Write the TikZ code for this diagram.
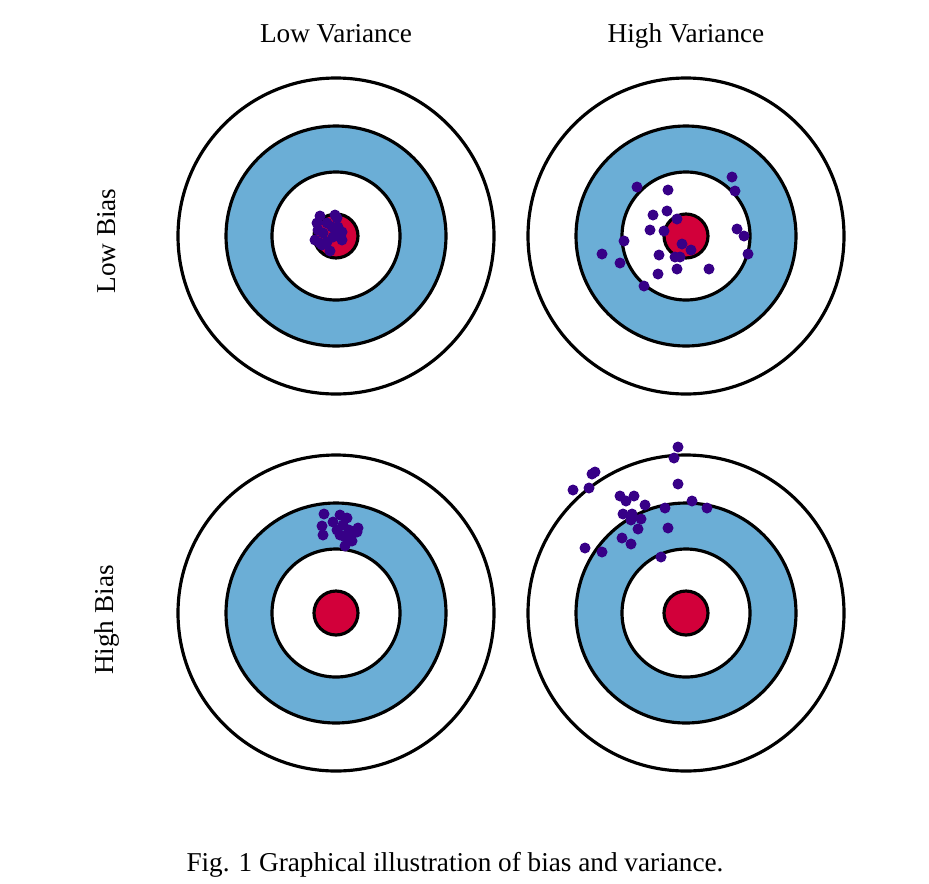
\documentclass[tikz,border=0pt]{standalone}
\usepackage{fontspec}
\setmainfont{Liberation Serif}
\definecolor{ringblue}{RGB}{107,174,214}
\definecolor{bullred}{RGB}{210,0,58}
\definecolor{shotpurple}{RGB}{55,0,135}
\tikzset{
  ring/.style={draw=black, line width=1.8pt},
  shot/.style={fill=shotpurple},
  lbl/.style={font=\fontsize{15.5}{18}\selectfont}
}
\begin{document}
\begin{tikzpicture}  % ------ Les cibles -----------------------------
      [x={(0.02cm,0cm)},y={(0cm,-0.02cm)}]

    \useasboundingbox (0,0) rectangle (929,883);

    \coordinate (T1) at (336,236);
    \coordinate (T2) at (686,236);
    \coordinate (T3) at (336,613);
    \coordinate (T4) at (686,613);

    \foreach \t in {T1,T2,T3,T4} {
      \draw [ring, fill=white]     (\t) circle (158);
      \draw [ring, fill=ringblue]  (\t) circle (110);
      \draw [ring, fill=white]     (\t) circle (64);
      \draw [ring, fill=bullred]   (\t) circle (22);
    }

%   basse variance, faible biais
    \foreach \x/\y in {320/216,335/215,337/218,317/223,327/223,332/227,342/232,
                       318/230,323/233,335/235,342/240,315/240,320/243,327/242,
                       330/251,322/245,333/237,338/227}
      \fill [shot] (\x,\y) circle (5.5);

%   haute variance, faible biais
    \foreach \x/\y in {637/187,668/190,732/177,735/191,653/215,667/211,677/219,
                       650/230,664/231,624/241,737/229,744/236,682/244,691/250,
                       602/254,659/255,675/257,680/257,748/254,620/263,677/269,
                       709/269,658/274,644/286}
      \fill [shot] (\x,\y) circle (5.5);

%   basse variance, fort biais
    \foreach \x/\y in {324/514,340/515,347/518,333/522,322/526,343/525,337/530,
                       349/530,358/528,323/535,353/533,340/535,345/537,357/532,
                       352/541,345/546}
      \fill [shot] (\x,\y) circle (5.5);

%   haute variance, fort biais
    \foreach \x/\y in {678/447,674/458,595/472,592/474,573/490,589/488,678/484,
                       620/496,626/501,634/496,645/505,692/501,707/508,665/508,
                       623/514,632/514,631/520,641/519,638/529,668/528,622/538,
                       631/544,585/548,602/552,661/557}
      \fill [shot] (\x,\y) circle (5.5);

    \node [lbl, anchor=base] (lv) at (336,42) {Low Variance};
    \node [lbl, anchor=base] (hv) at (686,42) {High Variance};
    \node [lbl, rotate=90] (lb) at (107,241) {Low Bias};
    \node [lbl, rotate=90] (hb) at (107,620) {High Bias};
    \node [lbl, anchor=base] (cap) at (455,871) {Fig. 1 Graphical illustration of bias and variance.};

\end{tikzpicture}
\end{document}
